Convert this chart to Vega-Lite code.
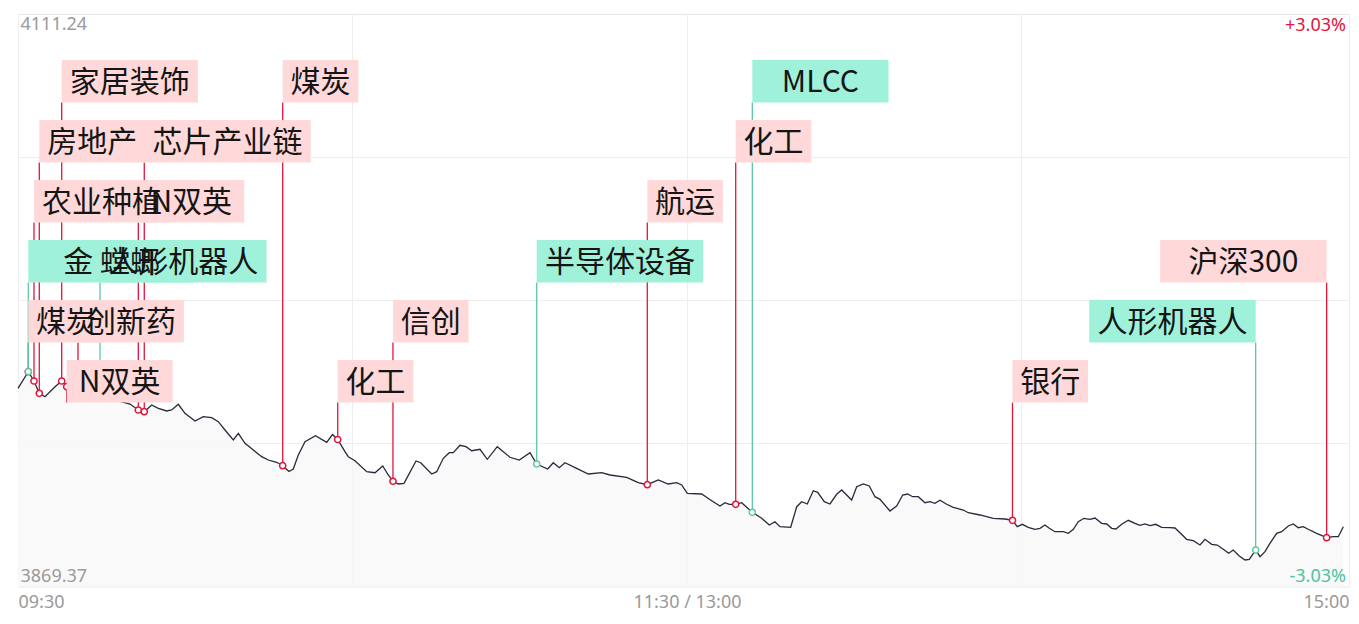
{
  "$schema": "https://vega.github.io/schema/vega-lite/v6.json",
  "width": 1331,
  "height": 572.5,
  "autosize": "none",
  "padding": {"left": 18, "top": 14, "right": 10, "bottom": 37.5},
  "background": "white",
  "config": {"view": {"stroke": "#e6e6e6", "strokeWidth": 1}},
  "datasets": {
    "series": [
      {"t":0,"price":3953.10},{"t":1.85,"price":3960.12},{"t":2.87,"price":3956.19},{"t":3.82,"price":3950.99},{"t":4.84,"price":3949.56},
      {"t":6.64,"price":3953.78},{"t":7.84,"price":3956.19},{"t":8.74,"price":3953.78},{"t":10.22,"price":3951.12},{"t":12.02,"price":3949.85},
      {"t":13.81,"price":3951.54},{"t":15.61,"price":3949.43},{"t":17.40,"price":3948.16},{"t":18.65,"price":3947.32},{"t":20.09,"price":3946.47},
      {"t":21.58,"price":3943.94},{"t":22.65,"price":3943.22},{"t":23.98,"price":3946.05},{"t":25.17,"price":3944.66},{"t":26.67,"price":3943.52},
      {"t":27.57,"price":3943.94},{"t":28.75,"price":3946.35},{"t":29.95,"price":3942.54},{"t":31.75,"price":3939.29},{"t":33.24,"price":3941.11},
      {"t":34.74,"price":3940.69},{"t":35.93,"price":3939.00},{"t":37.13,"price":3935.49},{"t":38.62,"price":3931.26},{"t":39.52,"price":3934.09},
      {"t":40.72,"price":3929.87},{"t":42.21,"price":3927.04},{"t":43.71,"price":3924.21},{"t":44.90,"price":3922.81},{"t":46.40,"price":3921.84},
      {"t":47.48,"price":3920.41},{"t":48.61,"price":3917.96},{"t":49.38,"price":3919.01},{"t":50.28,"price":3924.93},{"t":51.48,"price":3930.55},
      {"t":53.36,"price":3933.08},{"t":55.37,"price":3930.29},{"t":56.41,"price":3933.59},{"t":57.35,"price":3931.48},{"t":58.65,"price":3926.32},
      {"t":59.25,"price":3924.21},{"t":60.45,"price":3922.52},{"t":62.55,"price":3917.87},{"t":64.04,"price":3917.45},{"t":65.42,"price":3920.28},
      {"t":66.42,"price":3916.48},{"t":67.26,"price":3913.82},{"t":68.21,"price":3912.68},{"t":69.24,"price":3912.97},{"t":71.39,"price":3922.39},
      {"t":72.23,"price":3921.67},{"t":74.21,"price":3916.90},{"t":75.10,"price":3917.87},{"t":76.29,"price":3923.53},{"t":77.36,"price":3925.90},
      {"t":78.08,"price":3925.90},{"t":79.28,"price":3929.03},{"t":80.36,"price":3928.43},{"t":81.38,"price":3926.74},{"t":82.87,"price":3927.34},
      {"t":84.18,"price":3923.11},{"t":85.97,"price":3928.43},{"t":88.25,"price":3923.96},{"t":89.92,"price":3922.81},{"t":91.84,"price":3925.90},
      {"t":93.04,"price":3921.12},{"t":95.01,"price":3919.01},{"t":96.02,"price":3921.67},{"t":97.09,"price":3919.56},{"t":98.11,"price":3921.67},
      {"t":100.21,"price":3919.31},{"t":102.30,"price":3916.90},{"t":104.70,"price":3917.45},{"t":106.19,"price":3916.48},{"t":109.18,"price":3915.51},
      {"t":111.26,"price":3913.22},{"t":112.88,"price":3912.38},{"t":114.85,"price":3914.37},{"t":116.64,"price":3912.68},{"t":118.15,"price":3913.22},
      {"t":119.05,"price":3912.25},{"t":120.05,"price":3908.75},{"t":122.63,"price":3908.45},{"t":124.43,"price":3905.62},{"t":125.92,"price":3903.38},
      {"t":126.82,"price":3904.77},{"t":127.59,"price":3904.10},{"t":128.74,"price":3904.10},{"t":129.81,"price":3904.77},{"t":131.72,"price":3900.72},
      {"t":133.40,"price":3898.18},{"t":134.77,"price":3895.35},{"t":135.78,"price":3896.75},{"t":136.68,"price":3894.64},{"t":138.60,"price":3894.38},
      {"t":139.68,"price":3903.08},{"t":140.57,"price":3905.20},{"t":141.58,"price":3904.23},{"t":142.65,"price":3909.84},{"t":143.44,"price":3909.17},
      {"t":144.63,"price":3905.20},{"t":145.65,"price":3904.23},{"t":146.85,"price":3908.32},{"t":147.75,"price":3910.14},{"t":149.54,"price":3905.92},
      {"t":150.44,"price":3911.53},{"t":151.62,"price":3912.68},{"t":152.70,"price":3911.83},{"t":153.72,"price":3907.31},{"t":154.62,"price":3906.21},
      {"t":156.41,"price":3901.27},{"t":157.61,"price":3903.38},{"t":158.69,"price":3908.03},{"t":159.59,"price":3908.45},{"t":160.48,"price":3907.31},
      {"t":161.49,"price":3907.31},{"t":162.69,"price":3904.77},{"t":163.59,"price":3905.20},{"t":164.48,"price":3904.52},{"t":165.38,"price":3905.79},
      {"t":166.58,"price":3904.10},{"t":167.77,"price":3902.83},{"t":169.56,"price":3901.69},{"t":170.46,"price":3900.55},{"t":172.55,"price":3899.58},
      {"t":174.94,"price":3898.18},{"t":177.04,"price":3897.89},{"t":178.39,"price":3897.34},{"t":179.25,"price":3894.64},{"t":180.15,"price":3895.65},
      {"t":181.22,"price":3894.38},{"t":182.42,"price":3893.54},{"t":183.32,"price":3893.96},{"t":184.22,"price":3895.35},{"t":184.99,"price":3893.96},
      {"t":186.01,"price":3892.52},{"t":187.50,"price":3892.52},{"t":188.40,"price":3891.85},{"t":189.30,"price":3893.54},{"t":190.19,"price":3896.75},
      {"t":191.21,"price":3898.18},{"t":192.29,"price":3897.76},{"t":193.19,"price":3898.31},{"t":194.39,"price":3896.07},{"t":195.29,"price":3895.78},
      {"t":196.18,"price":3893.96},{"t":196.95,"price":3893.66},{"t":197.97,"price":3895.65},{"t":199.16,"price":3897.34},{"t":200.36,"price":3896.07},
      {"t":201.26,"price":3895.23},{"t":202.15,"price":3895.78},{"t":203.05,"price":3895.06},{"t":204.07,"price":3895.65},{"t":205.15,"price":3894.38},
      {"t":206.64,"price":3894.21},{"t":207.53,"price":3894.09},{"t":208.43,"price":3892.10},{"t":209.63,"price":3889.31},{"t":210.82,"price":3888.72},
      {"t":212.02,"price":3886.90},{"t":212.91,"price":3889.31},{"t":214.12,"price":3887.20},{"t":215.12,"price":3886.90},{"t":216.20,"price":3885.09},
      {"t":217.17,"price":3883.40},{"t":217.99,"price":3884.79},{"t":219.07,"price":3882.26},{"t":220.09,"price":3880.57},{"t":220.86,"price":3880.86},
      {"t":222.01,"price":3884.79},{"t":222.78,"price":3881.96},{"t":223.68,"price":3884.07},{"t":224.57,"price":3887.62},{"t":225.78,"price":3891.85},
      {"t":226.67,"price":3892.52},{"t":227.86,"price":3894.93},{"t":228.76,"price":3895.78},{"t":229.65,"price":3894.21},{"t":230.55,"price":3894.64},
      {"t":231.44,"price":3893.54},{"t":232.95,"price":3891.85},{"t":234.74,"price":3889.99},{"t":235.93,"price":3890.41},{"t":236.83,"price":3890.41},
      {"t":237.73,"price":3894.64}
    ],
    "events": [
      {"label":"煤炭","t":1.85,"price":3960.12,"level":5,"tone":"red"},
      {"label":"农业种植","t":2.87,"price":3956.19,"level":3,"tone":"red"},
      {"label":"房地产","t":3.82,"price":3950.99,"level":2,"tone":"red"},
      {"label":"家居装饰","t":7.84,"price":3956.19,"level":1,"tone":"red"},
      {"label":"N双英","t":8.74,"price":3953.78,"level":6,"tone":"red"},
      {"label":"创新药","t":10.76,"price":3951.4,"level":5,"tone":"red"},
      {"label":"N双英","t":21.58,"price":3943.94,"level":3,"tone":"red"},
      {"label":"芯片产业链","t":22.65,"price":3943.22,"level":2,"tone":"red"},
      {"label":"煤炭","t":47.48,"price":3920.41,"level":1,"tone":"red"},
      {"label":"化工","t":57.35,"price":3931.48,"level":6,"tone":"red"},
      {"label":"信创","t":67.26,"price":3913.82,"level":5,"tone":"red"},
      {"label":"航运","t":112.88,"price":3912.38,"level":3,"tone":"red"},
      {"label":"化工","t":128.74,"price":3904.10,"level":2,"tone":"red"},
      {"label":"银行","t":178.39,"price":3897.34,"level":6,"tone":"red"},
      {"label":"沪深300","t":234.74,"price":3889.99,"level":4,"tone":"red"},
      {"label":"金 螳螂 ","t":1.85,"price":3960.12,"level":4,"tone":"green"},
      {"label":"人形机器人","t":14.71,"price":3950.0,"level":4,"tone":"green"},
      {"label":"半导体设备","t":93.04,"price":3921.12,"level":4,"tone":"green"},
      {"label":"MLCC","t":131.72,"price":3900.72,"level":1,"tone":"green"},
      {"label":"人形机器人","t":222.01,"price":3884.79,"level":5,"tone":"green"}
    ]
  },
  "layer": [
    {
      "data": {"name": "series"},
      "mark": {"type": "area", "fill": "#f7f7f7", "opacity": 0.8},
      "encoding": {
        "x": {"field": "t", "type": "quantitative",
              "scale": {"domain": [0, 238.75], "nice": false, "zero": false},
              "axis": {"values": [0, 60, 120, 180, 238.75], "title": null, "grid": true, "gridColor": "#eeeeee",
                       "ticks": false, "domain": false, "labelFlush": true, "labelOverlap": false,
                       "labelExpr": "datum.value == 0 ? '09:30' : (datum.value == 120 ? '11:30 / 13:00' : (datum.value > 200 ? '15:00' : ''))",
                       "labelColor": "#999999", "labelFont": "Noto Sans", "labelFontSize": 18, "labelPadding": 7}},
        "y": {"field": "price", "type": "quantitative",
              "scale": {"domain": [3869.37, 4111.24], "nice": false, "zero": false},
              "axis": {"values": [3929.8375, 3990.305, 4050.7725], "title": null, "labels": false, "ticks": false,
                       "domain": false, "grid": true, "gridColor": "#eeeeee"}},
        "y2": {"datum": 3869.37}
      }
    },
    {
      "data": {"name": "series"},
      "mark": {"type": "line", "color": "#262a3a", "strokeWidth": 1.3},
      "encoding": {
        "x": {"field": "t", "type": "quantitative"},
        "y": {"field": "price", "type": "quantitative"}
      }
    },
    {
      "data": {"name": "events"},
      "transform": [
        {"calculate": "(30.3 * length(datum.label) + 15) / 5.575", "as": "w"},
        {"calculate": "datum.t > 200 ? datum.t - datum.w : datum.t", "as": "bx1"},
        {"calculate": "datum.t > 200 ? datum.t : datum.t + datum.w", "as": "bx2"},
        {"calculate": "(datum.bx1 + datum.bx2) / 2", "as": "bxc"},
        {"calculate": "4082.807 - 25.349 * (datum.level - 1)", "as": "ly"},
        {"calculate": "datum.ly + 9", "as": "lyTop"},
        {"calculate": "datum.ly - 9", "as": "lyBottom"}
      ],
      "layer": [
        {
          "mark": {"type": "rule", "strokeWidth": 1.3},
          "encoding": {
            "x": {"field": "t", "type": "quantitative"},
            "y": {"field": "price", "type": "quantitative"},
            "y2": {"field": "lyBottom"},
            "stroke": {"field": "tone", "type": "nominal", "legend": null,
                       "scale": {"domain": ["red", "green"], "range": ["#e3143c", "#5cc9a0"]}}
          }
        },
        {
          "mark": {"type": "point", "shape": "circle", "filled": false, "fill": "white", "fillOpacity": 1, "opacity": 1, "size": 38, "strokeWidth": 1.5},
          "encoding": {
            "x": {"field": "t", "type": "quantitative"},
            "y": {"field": "price", "type": "quantitative"},
            "stroke": {"field": "tone", "type": "nominal", "legend": null}
          }
        },
        {
          "mark": {"type": "rect"},
          "encoding": {
            "x": {"field": "bx1", "type": "quantitative"},
            "x2": {"field": "bx2"},
            "y": {"field": "lyTop", "type": "quantitative"},
            "y2": {"field": "lyBottom"},
            "fill": {"field": "tone", "type": "nominal", "legend": null,
                     "scale": {"domain": ["red", "green"], "range": ["#ffd9d9", "#9ff1d9"]}}
          }
        },
        {
          "mark": {"type": "text", "font": "Noto Sans CJK SC", "fontSize": 30, "color": "#151515", "align": "center", "baseline": "middle", "dy": 2},
          "encoding": {
            "x": {"field": "bxc", "type": "quantitative"},
            "y": {"field": "ly", "type": "quantitative"},
            "text": {"field": "label"}
          }
        }
      ]
    },
    {
      "data": {"values": [{}]},
      "mark": {"type": "text", "align": "left", "baseline": "top", "dx": 2.5, "dy": 1.5, "font": "Noto Sans", "fontSize": 18, "color": "#9a9a9a"},
      "encoding": {"x": {"datum": 0}, "y": {"datum": 4111.24}, "text": {"value": "4111.24"}}
    },
    {
      "data": {"values": [{}]},
      "mark": {"type": "text", "align": "left", "baseline": "alphabetic", "dx": 2.5, "dy": -4.5, "font": "Noto Sans", "fontSize": 18, "color": "#9a9a9a"},
      "encoding": {"x": {"datum": 0}, "y": {"datum": 3869.37}, "text": {"value": "3869.37"}}
    },
    {
      "data": {"values": [{}]},
      "mark": {"type": "text", "align": "right", "baseline": "top", "dx": -3, "dy": 2.5, "font": "Noto Sans", "fontSize": 18, "color": "#e3143c"},
      "encoding": {"x": {"datum": 238.75}, "y": {"datum": 4111.24}, "text": {"value": "+3.03%"}}
    },
    {
      "data": {"values": [{}]},
      "mark": {"type": "text", "align": "right", "baseline": "alphabetic", "dx": -3, "dy": -4.5, "font": "Noto Sans", "fontSize": 18, "color": "#4cc59a"},
      "encoding": {"x": {"datum": 238.75}, "y": {"datum": 3869.37}, "text": {"value": "-3.03%"}}
    }
  ]
}
